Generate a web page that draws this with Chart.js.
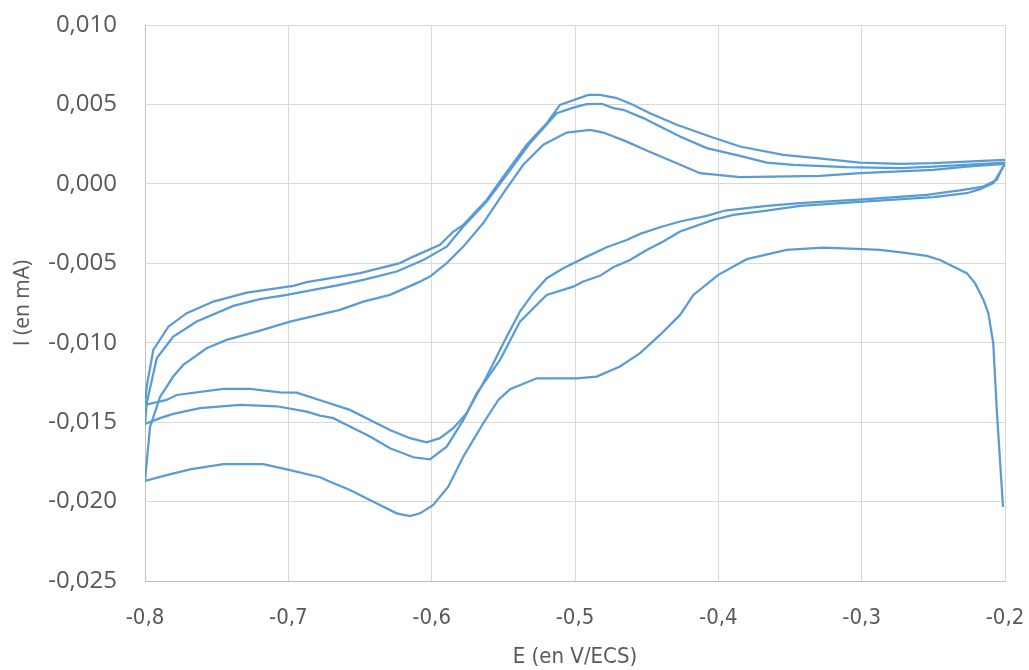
<!DOCTYPE html>
<html>
<head>
<meta charset="utf-8">
<script src="https://cdn.jsdelivr.net/npm/chart.js@4.4.1/dist/chart.umd.min.js"></script>
<style>
  html, body { margin: 0; padding: 0; background: #fff; }
  #wrap { width: 1029px; height: 670px; }
</style>
</head>
<body>
<div id="wrap"><canvas id="cv" width="1029" height="670"></canvas></div>
<script>
// Voltammogram: 3 cycles, each a cathodic sweep (-0,2 -> -0,8) then an anodic sweep (-0,8 -> -0,2)
// Potential in V/ECS, current in mA

const cath1E = [-0.2014, -0.2056, -0.2082, -0.2116, -0.2151, -0.2209, -0.2267, -0.2337, -0.2453, -0.2546, -0.2710, -0.2872, -0.2988, -0.3268, -0.3523, -0.3802, -0.4000, -0.4174, -0.4267, -0.4407, -0.4546, -0.4686, -0.4849, -0.4988, -0.5267, -0.5453, -0.5535, -0.5640, -0.5779, -0.5884, -0.5989, -0.6081, -0.6151, -0.6244, -0.6407, -0.6570, -0.6709, -0.6779, -0.7011, -0.7175, -0.7454, -0.7686, -0.7849, -0.8000];
const cath1I = [-0.02034, -0.01442, -0.01003, -0.00814, -0.00730, -0.00625, -0.00562, -0.00531, -0.00479, -0.00453, -0.00433, -0.00416, -0.00411, -0.00401, -0.00416, -0.00474, -0.00573, -0.00699, -0.00825, -0.00951, -0.01066, -0.01150, -0.01213, -0.01224, -0.01224, -0.01293, -0.01360, -0.01507, -0.01717, -0.01906, -0.02021, -0.02074, -0.02091, -0.02074, -0.02001, -0.01927, -0.01875, -0.01847, -0.01797, -0.01765, -0.01765, -0.01797, -0.01833, -0.01870];

const anod1E = [-0.8000, -0.7965, -0.7895, -0.7803, -0.7733, -0.7570, -0.7430, -0.7221, -0.6988, -0.6640, -0.6477, -0.6291, -0.6104, -0.6012, -0.5895, -0.5779, -0.5640, -0.5500, -0.5361, -0.5221, -0.5058, -0.4895, -0.4802, -0.4639, -0.4500, -0.4290, -0.4128, -0.3849, -0.3291, -0.3012, -0.2500, -0.2267, -0.2000];
const anod1I = [-0.01870, -0.01530, -0.01341, -0.01213, -0.01140, -0.01035, -0.00982, -0.00930, -0.00867, -0.00793, -0.00741, -0.00699, -0.00625, -0.00584, -0.00499, -0.00395, -0.00247, -0.00059, 0.00120, 0.00246, 0.00323, 0.00340, 0.00323, 0.00266, 0.00210, 0.00130, 0.00067, 0.00042, 0.00050, 0.00067, 0.00088, 0.00109, 0.00126];

const cath2E = [-0.2000, -0.2082, -0.2174, -0.2267, -0.2500, -0.2965, -0.3430, -0.3662, -0.3895, -0.4035, -0.4267, -0.4384, -0.4500, -0.4616, -0.4733, -0.4826, -0.4942, -0.5012, -0.5197, -0.5244, -0.5384, -0.5523, -0.5686, -0.5779, -0.5895, -0.6012, -0.6128, -0.6291, -0.6430, -0.6616, -0.6686, -0.6779, -0.6872, -0.7081, -0.7337, -0.7616, -0.7803, -0.7895, -0.8000];
const cath2I = [0.00126, 0.00004, -0.00033, -0.00059, -0.00084, -0.00111, -0.00139, -0.00168, -0.00195, -0.00227, -0.00300, -0.00363, -0.00416, -0.00479, -0.00525, -0.00579, -0.00615, -0.00647, -0.00699, -0.00741, -0.00867, -0.01108, -0.01318, -0.01486, -0.01654, -0.01734, -0.01721, -0.01664, -0.01591, -0.01507, -0.01475, -0.01459, -0.01434, -0.01400, -0.01392, -0.01412, -0.01448, -0.01475, -0.01511];

const anod2E = [-0.8000, -0.7988, -0.7918, -0.7803, -0.7639, -0.7384, -0.7198, -0.7011, -0.6826, -0.6640, -0.6477, -0.6244, -0.6058, -0.5895, -0.5779, -0.5616, -0.5477, -0.5314, -0.5128, -0.5012, -0.4918, -0.4814, -0.4733, -0.4663, -0.4523, -0.4407, -0.4267, -0.4081, -0.3849, -0.3663, -0.3477, -0.3105, -0.2733, -0.2500, -0.2000];
const anod2I = [-0.01511, -0.01381, -0.01098, -0.00962, -0.00867, -0.00768, -0.00726, -0.00699, -0.00668, -0.00636, -0.00605, -0.00552, -0.00479, -0.00395, -0.00269, -0.00111, 0.00057, 0.00256, 0.00445, 0.00480, 0.00502, 0.00504, 0.00477, 0.00466, 0.00414, 0.00361, 0.00298, 0.00225, 0.00176, 0.00134, 0.00120, 0.00105, 0.00099, 0.00109, 0.00134];

const cath3E = [-0.2000, -0.2058, -0.2151, -0.2291, -0.2546, -0.2965, -0.3430, -0.3662, -0.3953, -0.4081, -0.4267, -0.4407, -0.4546, -0.4639, -0.4779, -0.4918, -0.5082, -0.5197, -0.5291, -0.5384, -0.5500, -0.5616, -0.5756, -0.5849, -0.5942, -0.6035, -0.6151, -0.6291, -0.6430, -0.6570, -0.6767, -0.6872, -0.6942, -0.7058, -0.7267, -0.7454, -0.7779, -0.7849, -0.8000];
const cath3I = [0.00134, 0.00025, -0.00017, -0.00038, -0.00069, -0.00096, -0.00122, -0.00139, -0.00168, -0.00202, -0.00237, -0.00273, -0.00315, -0.00353, -0.00399, -0.00458, -0.00531, -0.00594, -0.00688, -0.00804, -0.01003, -0.01213, -0.01444, -0.01538, -0.01601, -0.01627, -0.01601, -0.01549, -0.01486, -0.01423, -0.01365, -0.01335, -0.01314, -0.01312, -0.01291, -0.01291, -0.01329, -0.01360, -0.01392];

const anod3E = [-0.8000, -0.7988, -0.7942, -0.7837, -0.7709, -0.7523, -0.7290, -0.6965, -0.6872, -0.6640, -0.6500, -0.6221, -0.6128, -0.5942, -0.5849, -0.5779, -0.5616, -0.5500, -0.5337, -0.5197, -0.5105, -0.4907, -0.4826, -0.4709, -0.4593, -0.4477, -0.4290, -0.4058, -0.3849, -0.3547, -0.3314, -0.3012, -0.2733, -0.2500, -0.2000];
const anod3I = [-0.01392, -0.01276, -0.01045, -0.00899, -0.00814, -0.00741, -0.00685, -0.00642, -0.00619, -0.00584, -0.00562, -0.00499, -0.00458, -0.00384, -0.00300, -0.00258, -0.00101, 0.00046, 0.00246, 0.00382, 0.00497, 0.00560, 0.00560, 0.00540, 0.00497, 0.00445, 0.00372, 0.00298, 0.00235, 0.00183, 0.00162, 0.00134, 0.00126, 0.00130, 0.00151];

const xTicks = [-0.8, -0.7, -0.6, -0.5, -0.4, -0.3, -0.2];
const yTicks = [-0.025, -0.020, -0.015, -0.010, -0.005, 0, 0.005, 0.010];

const sweeps = [
  [cath1E, cath1I], [anod1E, anod1I],
  [cath2E, cath2I], [anod2E, anod2I],
  [cath3E, cath3I], [anod3E, anod3I]
];

function toPoints(E, I) {
  return E.map((e, i) => ({ x: e, y: I[i] }));
}

const lineColor = '#5B9BD5';
const textColor = '#595959';
const gridColor = '#D9D9D9';
const narrow = "'Liberation Sans Narrow', 'DejaVu Sans Condensed', sans-serif";

const datasets = sweeps.map(([E, I]) => ({
  data: toPoints(E, I),
  showLine: true,
  borderColor: lineColor,
  borderWidth: 2.25,
  pointRadius: 0,
  tension: 0,
  fill: false
}));

const comma = (v, d) => v.toFixed(d).replace('.', ',');

new Chart(document.getElementById('cv'), {
  type: 'scatter',
  data: { datasets },
  options: {
    responsive: false,
    animation: false,
    layout: { padding: { left: 0, right: 24, top: 25, bottom: 0 } },
    plugins: { legend: { display: false }, tooltip: { enabled: false } },
    scales: {
      x: {
        type: 'linear',
        min: -0.8,
        max: -0.2,
        afterBuildTicks: s => { s.ticks = xTicks.map(v => ({ value: v })); },
        afterFit: s => { s.height = 89; s.paddingLeft = 0; s.paddingRight = 0; },
        grid: { color: gridColor, lineWidth: 1, drawTicks: false },
        border: { color: '#BFBFBF', width: 1 },
        ticks: {
          padding: 24,
          color: textColor,
          font: { family: narrow, size: 22 },
          maxRotation: 0,
          callback: v => comma(v, 1)
        },
        title: {
          display: true,
          text: 'E (en V/ECS)',
          color: textColor,
          font: { family: narrow, size: 22 },
          padding: { top: 0, bottom: 0 }
        }
      },
      y: {
        type: 'linear',
        min: -0.025,
        max: 0.010,
        afterBuildTicks: s => { s.ticks = yTicks.map(v => ({ value: v })); },
        afterFit: s => { s.width = 145; s.paddingTop = 0; s.paddingBottom = 0; },
        grid: { color: gridColor, lineWidth: 1, drawTicks: false },
        border: { color: '#BFBFBF', width: 1 },
        ticks: {
          padding: 28,
          color: textColor,
          font: { family: "'Open Sans', sans-serif", size: 24 },
          callback: v => comma(v, 3)
        },
        title: {
          display: true,
          text: 'I (en mA)',
          color: textColor,
          font: { family: "'Open Sans', sans-serif", size: 21 },
          padding: { top: 10, bottom: 0 }
        }
      }
    }
  }
});
</script>
</body>
</html>
